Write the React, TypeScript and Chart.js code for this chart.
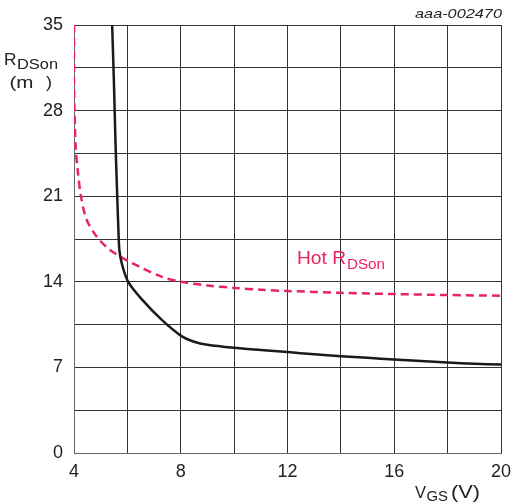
import React, { useEffect, useRef } from "react";
import { Chart, registerables } from "chart.js";

Chart.register(...registerables);

// R_DSon (black, solid)
const rdsX = [5.43, 5.5, 5.56, 5.62, 5.66, 5.7, 5.79, 6.03, 6.57, 7.28, 8, 8.5, 9, 10, 11, 12, 13, 14, 15, 16, 17, 18, 19, 20];
const rdsY = [35, 30, 25, 21, 18.5, 16.6, 15.5, 14.0, 12.5, 10.9, 9.6, 9.1, 8.85, 8.6, 8.42, 8.25, 8.08, 7.92, 7.78, 7.64, 7.52, 7.4, 7.3, 7.24];

// Hot R_DSon (pink, dashed)
const hotX = [4.0, 4.0, 4.02, 4.06, 4.14, 4.26, 4.47, 4.85, 5.35, 6.2, 7.3, 8, 9, 10, 11, 12, 14, 16, 18, 20];
const hotY = [35, 30, 28, 25, 23.1, 21, 19.1, 17.7, 16.6, 15.5, 14.4, 14.0, 13.7, 13.5, 13.35, 13.25, 13.1, 13.0, 12.92, 12.86];

const xMin = 4, xMax = 20, xStep = 2, xLabelEvery = 4;
const yMin = 0, yMax = 35, yStep = 3.5, yLabelEvery = 7;

const PINK = "#e8245f";
const TEXT = "#222222";
const FONT = '"Liberation Sans", Arial, sans-serif';

// draw text fitted to a given width (stretching horizontally slightly)
function fitText(ctx: CanvasRenderingContext2D, text: string, x: number, baseline: number, size: number, width: number, color: string, italic = false) {
  ctx.save();
  ctx.font = `${italic ? "italic " : ""}${size}px ${FONT}`;
  ctx.fillStyle = color;
  ctx.textAlign = "left";
  ctx.textBaseline = "alphabetic";
  const w = ctx.measureText(text).width;
  const sx = width / w;
  ctx.translate(x, baseline);
  ctx.scale(sx, 1);
  ctx.fillText(text, 0, 0);
  ctx.restore();
}

const textPlugin = {
  id: "texts",
  afterDraw(chart: any) {
    const ctx = chart.ctx as CanvasRenderingContext2D;
    // y axis title
    fitText(ctx, "R", 4, 64.5, 17, 12.5, TEXT);
    fitText(ctx, "DSon", 17, 68.5, 14.5, 41, TEXT);
    fitText(ctx, "(m", 9.5, 87.5, 17, 24, TEXT);
    fitText(ctx, ")", 46, 87.5, 17, 6, TEXT);
    // x axis title
    fitText(ctx, "V", 415, 497.5, 16, 11, TEXT);
    fitText(ctx, "GS", 426.5, 501, 14.5, 21.5, TEXT);
    fitText(ctx, "(V)", 451, 497.5, 17.5, 29, TEXT);
    // curve annotation
    fitText(ctx, "Hot R", 297, 264.3, 17.5, 49, PINK);
    fitText(ctx, "DSon", 347, 269.3, 14.5, 38, PINK);
    // figure id
    fitText(ctx, "aaa-002470", 415, 18, 13.5, 87, TEXT, true);
  },
};

export default function App() {
  const ref = useRef<HTMLCanvasElement>(null);
  useEffect(() => {
    if (!ref.current) return;
    const chart = new Chart(ref.current, {
      type: "line",
      data: {
        datasets: [
          {
            label: "RDSon",
            data: rdsX.map((x, i) => ({ x, y: rdsY[i] })),
            borderColor: "#1a1a1a",
            borderWidth: 2.5,
            pointRadius: 0,
            tension: 0.3,
            fill: false,
          },
          {
            label: "Hot RDSon",
            data: hotX.map((x, i) => ({ x, y: hotY[i] })),
            borderColor: PINK,
            borderWidth: 2.5,
            borderDash: [8, 5],
            pointRadius: 0,
            tension: 0.3,
            fill: false,
          },
        ],
      },
      options: {
        responsive: false,
        animation: false,
        devicePixelRatio: 1,
        layout: { padding: { top: 25, right: 11, left: 0, bottom: 0 } },
        plugins: { legend: { display: false }, tooltip: { enabled: false } },
        scales: {
          x: {
            type: "linear",
            min: xMin,
            max: xMax,
            afterFit: (s: any) => {
              s.height = 50;
              s.paddingLeft = 0;
              s.paddingRight = 0;
            },
            ticks: {
              stepSize: xStep,
              autoSkip: false,
              maxRotation: 0,
              padding: 8,
              color: TEXT,
              font: { size: 18, family: FONT },
              callback: (v: any) => (Math.abs(v / xLabelEvery - Math.round(v / xLabelEvery)) < 1e-6 ? String(v) : ""),
            },
            grid: { color: "#333333", lineWidth: 1, drawTicks: false },
            border: { color: "#666666" },
          },
          y: {
            type: "linear",
            min: yMin,
            max: yMax,
            afterFit: (s: any) => {
              s.width = 74;
              s.paddingTop = 0;
              s.paddingBottom = 0;
            },
            ticks: {
              stepSize: yStep,
              autoSkip: false,
              padding: 11,
              color: TEXT,
              font: { size: 18, family: FONT },
              callback: (v: any) => (Math.abs(v / yLabelEvery - Math.round(v / yLabelEvery)) < 1e-6 ? String(Math.round(v)) : ""),
            },
            grid: { color: "#333333", lineWidth: 1, drawTicks: false },
            border: { color: "#666666" },
          },
        },
      },
      plugins: [textPlugin],
    });
    return () => chart.destroy();
  }, []);
  return (
    <div style={{ position: "fixed", left: 0, top: 0, width: 512, height: 503, background: "#fff" }}>
      <canvas ref={ref} width={512} height={503} style={{ width: 512, height: 503 }} />
    </div>
  );
}
